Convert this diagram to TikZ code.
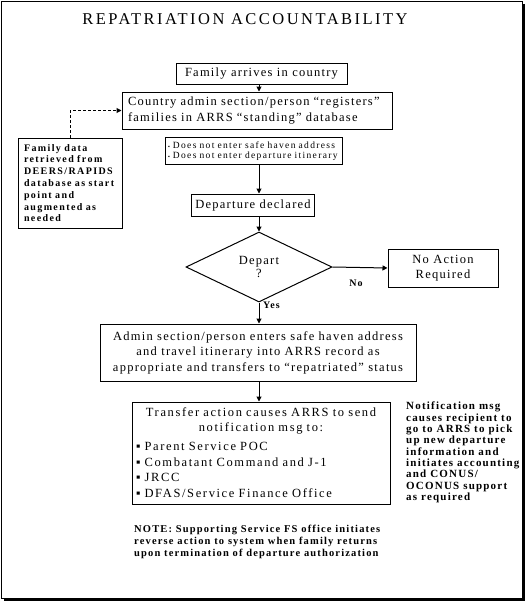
\documentclass[tikz,border=0pt]{standalone}
\usepackage{fontspec}
\setmainfont{Liberation Serif}[LetterSpace=10]
\usetikzlibrary{shapes.geometric}
\usetikzlibrary{arrows.meta}
\usetikzlibrary{positioning}

\newcommand\boxfont{\fontsize{12.5}{15.5}\selectfont}
\newcommand\smallbold[2]{\fontsize{#1}{#2}\selectfont\bfseries}

\begin{document}
\begin{tikzpicture}[x=1pt, y=-1pt,
  box/.style={draw, line width=1pt, font=\boxfont, inner sep=4pt},
  remark/.style={align=left, inner sep=0pt},
  arr/.style={-{Triangle[length=5pt, width=5pt]}, line width=1pt}]
\useasboundingbox (0,0) rectangle (526,602);
% frame with shadow
\fill (4,4) rectangle (525,601);
\filldraw[fill=white, line width=1pt] (1.5,1.5) rectangle (522,598);

\node[font=\fontsize{16.5}{18}\selectfont\addfontfeatures{LetterSpace=15}] (title) at (245,19) {REPATRIATION ACCOUNTABILITY};

\node[box, minimum width=171pt, minimum height=21pt] (arrive) at (261.5,74) {Family arrives in country};
\node[box, text width=258pt, inner xsep=6pt, minimum height=37pt, align=left] (register) at (257,110.5)
  {Country admin section/person “registers”\\families in ARRS “standing” database};
\node[box, font=\smallbold{10}{11.8}\addfontfeatures{LetterSpace=14}, text width=92pt, inner xsep=6pt, minimum height=90pt, align=left] (famdata) at (70,183)
  {Family data\\retrieved from\\DEERS/RAPIDS\\database as start\\point and\\augmented as\\needed};
\node[box, font=\fontsize{9.5}{10.5}\selectfont\addfontfeatures{LetterSpace=14}, text width=171pt, inner xsep=3pt, minimum height=26pt, align=left] (notenter) at (253.5,151)
  {{\tiny▪} Does not enter safe haven address\\{\tiny▪} Does not enter departure itinerary};
\node[box, minimum width=120pt, minimum height=22pt] (declared) at (253,205) {Departure declared};
\node[draw, line width=1pt, diamond, aspect=2.086, minimum width=146pt, minimum height=70pt, inner sep=0pt,
  font=\fontsize{12.5}{13.5}\selectfont, align=center] (depart) at (259,267) {Depart\\?};
\node[box, font=\fontsize{12.5}{15}\selectfont, minimum width=110pt, minimum height=38pt, align=center] (noaction) at (443,268) {No Action\\Required};
\node[font=\smallbold{10}{11}] (lblno) at (356,283) {No};
\node[font=\smallbold{10}{11}, anchor=west, inner sep=0pt] (lblyes) at (263,305) {Yes};
\node[box, minimum width=316pt, minimum height=57pt, align=center] (admin) at (258,352.5)
  {Admin section/person enters safe haven address\\and travel itinerary into ARRS record as\\appropriate and transfers to “repatriated” status};
\node[box, font=\fontsize{12.5}{15}\selectfont\addfontfeatures{LetterSpace=13}, text width=250pt, inner xsep=4pt, minimum height=102pt, align=center] (transfer) at (261,453)
  {Transfer action causes ARRS to send\\notification msg to:\par
   \raggedright\fontsize{12.5}{15.8}\selectfont\vspace{2.5pt}
   ▪ Parent Service POC\\▪ Combatant Command and J-1\\▪ JRCC\\▪ DFAS/Service Finance Office\par};
\node[remark, font=\smallbold{11}{11.3}\addfontfeatures{LetterSpace=11}, anchor=north west] (notify) at (406,402)
  {Notification msg\\causes recipient to\\go to ARRS to pick\\up new departure\\information and\\initiates accounting\\and CONUS/\\OCONUS support\\as required};
\node[remark, font=\smallbold{10.5}{12.2}\addfontfeatures{LetterSpace=11}, anchor=north west] (note) at (134,525)
  {NOTE: Supporting Service FS office initiates\\reverse action to system when family returns\\upon termination of departure authorization};

% connectors
\coordinate (spine) at (259,0);
\draw[arr] (arrive.south -| spine) -- (register.north -| spine);
\draw[arr] (notenter.south -| spine) -- (declared.north -| spine);
\draw[arr] (declared.south -| spine) -- (depart.north);
\draw[arr] (depart.east) -- (noaction.west);
\draw[arr] (depart.south) -- (admin.north -| spine);
\draw[arr] (admin.south -| spine) -- (transfer.north -| spine);
\draw[arr, dash pattern=on 3pt off 2pt] (famdata.north) |- (register.west);
\end{tikzpicture}
\end{document}
